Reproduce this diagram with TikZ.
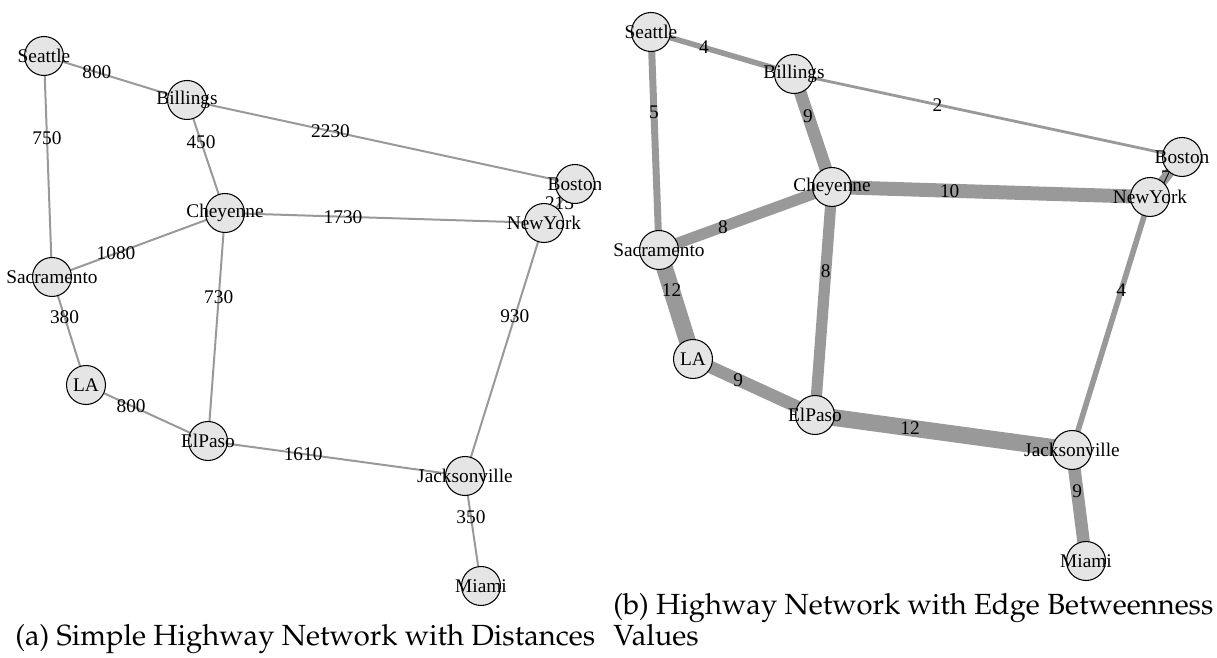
\documentclass[tikz,border=0pt]{standalone}
\usepackage[T1]{fontenc}
\usepackage{fontspec}
\setmainfont{Liberation Serif}
\usepackage{tikz}
\usetikzlibrary{positioning}
\usetikzlibrary{backgrounds}
\definecolor{cityfill}{HTML}{E5E5E5}
\definecolor{roadgray}{HTML}{999999}
\newcommand{\capfont}{\fontencoding{T1}\fontfamily{ppl}\fontsize{16.6}{17.2}\selectfont}
\tikzset{
    highway/.style={
            x=0.02cm,y=-0.02cm,
            city/.style={circle,draw,fill=cityfill,line width=0.6pt,minimum size=0.78cm,inner sep=0pt,
                    label={[inner sep=0pt,font=\fontsize{11}{13}\selectfont]center:##1}},
            road/.style={draw=roadgray,line width=0.04cm},
            busy/.style={draw=roadgray,line width=##1*0.028cm},
            dist/.style={pos=0.37,inner sep=0pt,font=\fontsize{11}{13}\selectfont},
            subcap/.style={anchor=base west,inner sep=0pt,align=left,font=\capfont}
        }
    }

\begin{document}
\begin{tikzpicture}[highway]
    \useasboundingbox (0,0) rectangle (1217,658);
    % (a) distances
    \begin{scope}
        \clip (0,0) rectangle (600,620);
        \node (sea) [city=Seattle] at (44,56) {};
        \node (bil) [city=Billings] at (187,100) {};
        \node (bos) [city=Boston] at (575,184) {};
        \node (che) [city=Cheyenne] at (225,213) {};
        \node (ny) [city=NewYork] at (544,223) {};
        \node (sac) [city=Sacramento] at (52,277) {};
        \node (la) [city=LA] at (86,385) {};
        \node (elp) [city=ElPaso] at (208,441) {};
        \node (jac) [city=Jacksonville] at (465,476) {};
        \node (mia) [city=Miami] at (481,586) {};
    \end{scope}
    \begin{pgfonlayer}{background}
        \draw [road] (sea.center) -- (bil.center) node [dist] {800};
        \draw [road] (sea.center) -- (sac.center) node [dist] {750};
        \draw [road] (bil.center) -- (bos.center) node [dist] {2230};
        \draw [road] (bil.center) -- (che.center) node [dist] {450};
        \draw [road] (che.center) -- (ny.center) node [dist] {1730};
        \draw [road] (sac.center) -- (che.center) node [dist] {1080};
        \draw [road] (che.center) -- (elp.center) node [dist] {730};
        \draw [road] (ny.center) -- (jac.center) node [dist] {930};
        \draw [road] (sac.center) -- (la.center) node [dist] {380};
        \draw [road] (la.center) -- (elp.center) node [dist] {800};
        \draw [road] (elp.center) -- (jac.center) node [dist] {1610};
        \draw [road] (jac.center) -- (mia.center) node [dist] {350};
        \draw [road] (bos.center) -- (ny.center) node [dist,pos=0.5] {215};
    \end{pgfonlayer}
    \node (capa) [subcap] at (15,645) {(a) Simple Highway Network with Distances};

    % (b) edge betweenness
    \node (seaB) [city=Seattle] at (651,32) {};
    \node (bilB) [city=Billings] at (794,74) {};
    \node (bosB) [city=Boston] at (1182,157) {};
    \node (cheB) [city=Cheyenne] at (832,187) {};
    \node (nyB) [city=NewYork] at (1150,197) {};
    \node (sacB) [city=Sacramento] at (659,250) {};
    \node (laB) [city=LA] at (693,359) {};
    \node (elpB) [city=ElPaso] at (815,415) {};
    \node (jacB) [city=Jacksonville] at (1072,450) {};
    \node (miaB) [city=Miami] at (1086,561) {};
    \begin{pgfonlayer}{background}
        \draw [busy=4] (seaB.center) -- (bilB.center) node [dist] {4};
        \draw [busy=5] (seaB.center) -- (sacB.center) node [dist] {5};
        \draw [busy=2] (bilB.center) -- (bosB.center) node [dist] {2};
        \draw [busy=9] (bilB.center) -- (cheB.center) node [dist] {9};
        \draw [busy=10] (cheB.center) -- (nyB.center) node [dist] {10};
        \draw [busy=8] (sacB.center) -- (cheB.center) node [dist] {8};
        \draw [busy=8] (cheB.center) -- (elpB.center) node [dist] {8};
        \draw [busy=4] (nyB.center) -- (jacB.center) node [dist] {4};
        \draw [busy=12] (sacB.center) -- (laB.center) node [dist] {12};
        \draw [busy=9] (laB.center) -- (elpB.center) node [dist] {9};
        \draw [busy=12] (elpB.center) -- (jacB.center) node [dist] {12};
        \draw [busy=9] (jacB.center) -- (miaB.center) node [dist] {9};
        \draw [busy=7] (bosB.center) -- (nyB.center) node [dist,pos=0.5] {7};
    \end{pgfonlayer}
    \node (capb) [subcap] at (613,645) {(b) Highway Network with Edge Betweenness\\Values};
\end{tikzpicture}
\end{document}
